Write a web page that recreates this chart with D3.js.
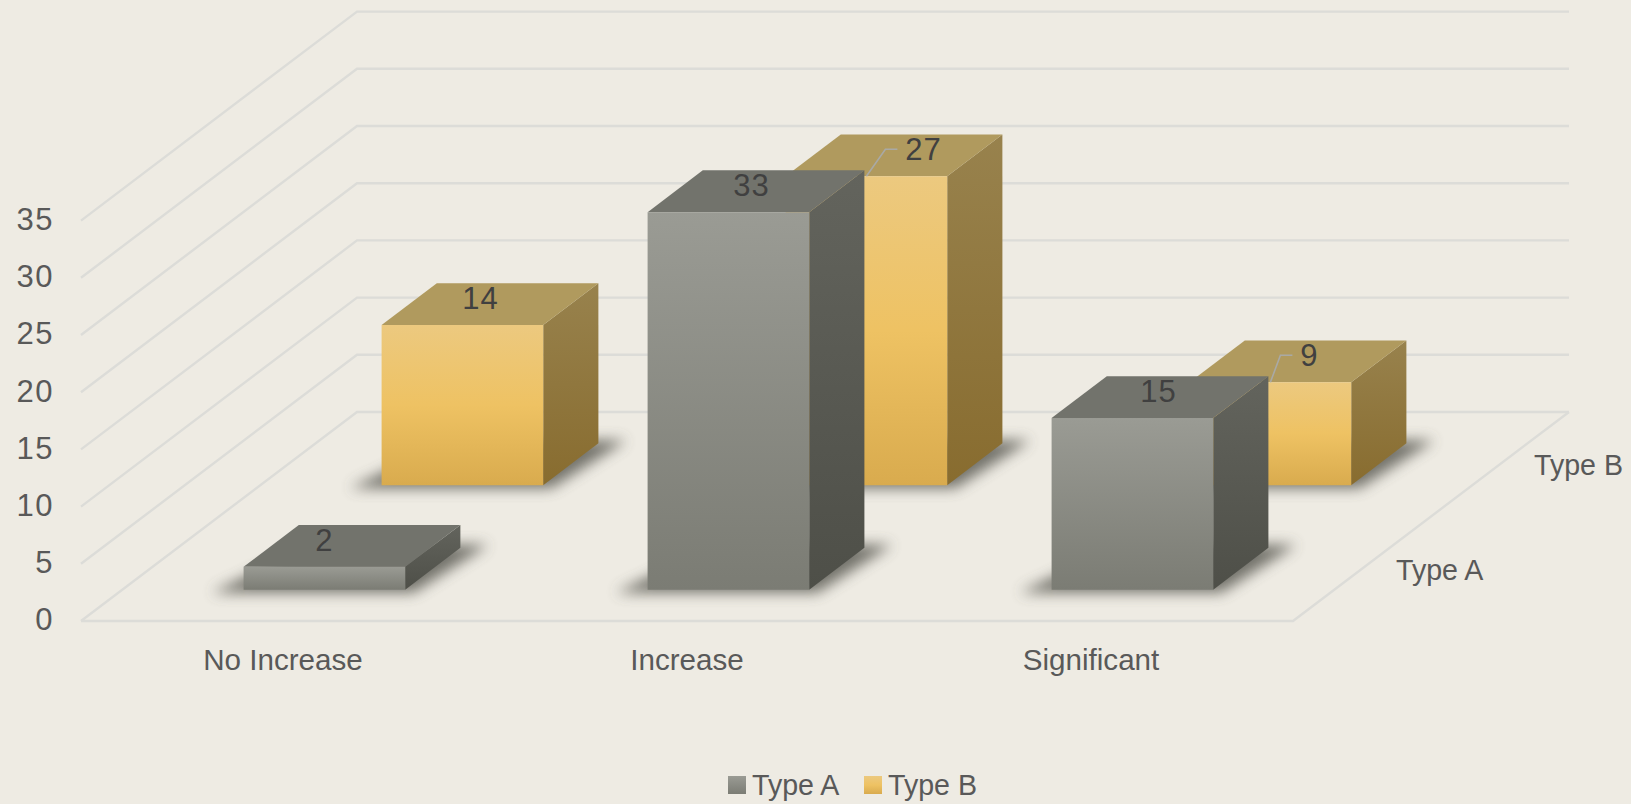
<!DOCTYPE html>
<html>
<head>
<meta charset="utf-8">
<script src="https://cdn.jsdelivr.net/npm/d3@7"></script>
<style>
  html, body { margin: 0; padding: 0; background: #eeebe3; }
  svg { display: block; }
  text { font-family: "Liberation Sans", Arial, sans-serif; }
</style>
</head>
<body>
<svg id="chart" width="1631" height="804"></svg>
<script>
// chart data
var categories = ["No Increase", "Increase", "Significant"];
var seriesNames = ["Type A", "Type B"];
var typeA = [2, 33, 15];
var typeB = [14, 27, 9];
var valueTicks = [0, 5, 10, 15, 20, 25, 30, 35];

var svg = d3.select("#chart");
var defs = svg.append("defs");

// the floor is a sheared rectangle, no perspective
var x = d3.scaleBand().domain(categories).range([81, 1293]).paddingInner(0.6).paddingOuter(0.3);
var y = d3.scaleLinear().domain([0, 35]).range([621, 220.6]);
var z = d3.scaleBand().domain(seriesNames).range([0, 209]).paddingInner(0.6).paddingOuter(0.3);
var shear = 276 / 209;

function pt(px, value, depth){
  return [px + depth * shear, y(value) - depth];
}
function face(points){
  return points.map(function(p){ return p.join(","); }).join(" ");
}

function gradient(id, stops){
  var g = defs.append("linearGradient").attr("id", id)
    .attr("x1", 0).attr("y1", 0).attr("x2", 0).attr("y2", 1);
  stops.forEach(function(s){
    g.append("stop").attr("offset", s[0]).attr("stop-color", s[1]);
  });
}
gradient("frontA", [[0, "#9a9b94"], [1, "#7b7c74"]]);
gradient("sideA", [[0, "#63645d"], [1, "#4e4f48"]]);
gradient("frontB", [[0, "#ecc97f"], [0.5, "#eec263"], [1, "#d9ab4e"]]);
gradient("sideB", [[0, "#98824d"], [1, "#886c2f"]]);

defs.append("filter").attr("id", "soft")
  .attr("x", "-30%").attr("y", "-80%").attr("width", "160%").attr("height", "260%")
  .append("feGaussianBlur").attr("stdDeviation", 7);

var look = {
  "Type A": {front: "url(#frontA)", side: "url(#sideA)", top: "#72736c"},
  "Type B": {front: "url(#frontB)", side: "url(#sideB)", top: "#b09a5e"}
};

// walls and floor
var grid = svg.append("g").attr("fill", "none").attr("stroke", "#dcdcd8").attr("stroke-width", 2.4);
var x0 = x.range()[0], x1 = x.range()[1], depth = z.range()[1];
valueTicks.forEach(function(v){
  grid.append("polyline").attr("points", face([pt(x0, v, 0), pt(x0, v, depth), pt(x1, v, depth)]));
});
grid.append("polyline").attr("points", face([pt(x0, 0, 0), pt(x1, 0, 0), pt(x1, 0, depth)]));

// axes
var yAxis = svg.append("g").attr("transform", "translate(54,-1)")
  .call(d3.axisLeft(y).tickValues(valueTicks).tickSize(0).tickPadding(0));
var catAxis = svg.append("g").attr("transform", "translate(0,649)")
  .call(d3.axisBottom(d3.scaleBand().domain(categories).range([x0, x1])).tickSize(0).tickPadding(0));
[yAxis, catAxis].forEach(function(a){
  a.select(".domain").remove();
  a.selectAll("text").attr("font-family", null).attr("fill", "#595959");
});
yAxis.selectAll("text").attr("font-size", 31).attr("letter-spacing", 1.5);
catAxis.selectAll("text").attr("font-size", 29.6);

// series names along the right floor edge
var zBand = d3.scaleBand().domain(seriesNames).range([0, depth]);
svg.append("g").selectAll("text").data(seriesNames).join("text")
  .attr("x", function(d){ return pt(x1, 0, zBand(d) + zBand.bandwidth() / 2)[0] + 34; })
  .attr("y", function(d){ return pt(x1, 0, zBand(d) + zBand.bandwidth() / 2)[1] + 11; })
  .attr("font-size", 28.6).attr("fill", "#595959")
  .text(function(d){ return d; });

// bars, back row first
var rows = [["Type B", typeB], ["Type A", typeA]];
// how far each value label sits from the front centre of its bar
var labelShift = {"Type A": [0, 23, 26], "Type B": [18, 57, 39]};
var leaderOn = {"Type A": [false, false, false], "Type B": [false, true, true]};

rows.forEach(function(row){
  var name = row[0], vals = row[1], st = look[name];
  var zf = z(name), zb = zf + z.bandwidth(), w = x.bandwidth();
  var g = svg.append("g");
  vals.forEach(function(v, i){
    var l = x(categories[i]), r = l + w;
    // shadow on the floor
    g.append("polygon")
      .attr("points", face([pt(l - 28, 0, zf - 3), pt(r + 12, 0, zf - 3), pt(r + 24, 0, zb + 3), pt(l + 10, 0, zb + 3)]))
      .attr("fill", "#55554e").attr("opacity", 0.8).attr("filter", "url(#soft)");
    g.append("polygon").attr("points", face([pt(r, 0, zf), pt(r, 0, zb), pt(r, v, zb), pt(r, v, zf)]))
      .attr("fill", st.side);
    g.append("polygon").attr("points", face([pt(l, v, zf), pt(r, v, zf), pt(r, v, zb), pt(l, v, zb)]))
      .attr("fill", st.top);
    g.append("polygon").attr("points", face([pt(l, 0, zf), pt(r, 0, zf), pt(r, v, zf), pt(l, v, zf)]))
      .attr("fill", st.front);
  });
});

// value labels go on top of everything
rows.forEach(function(row){
  var name = row[0], vals = row[1], zf = z(name), w = x.bandwidth();
  vals.forEach(function(v, i){
    var c = x(categories[i]) + w / 2;
    var front = pt(c, v, zf);
    var lx = front[0] + labelShift[name][i], ly = front[1] - 27;
    svg.append("text").attr("x", lx).attr("y", ly).attr("dy", "0.35em")
      .attr("text-anchor", "middle").attr("font-size", 31).attr("letter-spacing", 1)
      .attr("fill", "#404040").text(v);
    if(leaderOn[name][i]){
      var half = String(v).length * 9 + 8;
      svg.append("polyline").attr("fill", "none").attr("stroke", "#a9a9a5").attr("stroke-width", 1.6)
        .attr("points", face([[front[0], front[1]], [lx - half - 12, ly], [lx - half, ly]]));
    }
  });
});

// legend
var legendX = {"Type A": 728, "Type B": 864};
var legend = svg.append("g").selectAll("g").data(seriesNames).join("g")
  .attr("transform", function(d){ return "translate(" + legendX[d] + ",776)"; });
legend.append("rect").attr("width", 18).attr("height", 18)
  .attr("fill", function(d){ return look[d].front; });
legend.append("text").attr("x", 24).attr("y", 18.5).attr("font-size", 28.6).attr("fill", "#595959")
  .text(function(d){ return d; });
</script>
</body>
</html>
